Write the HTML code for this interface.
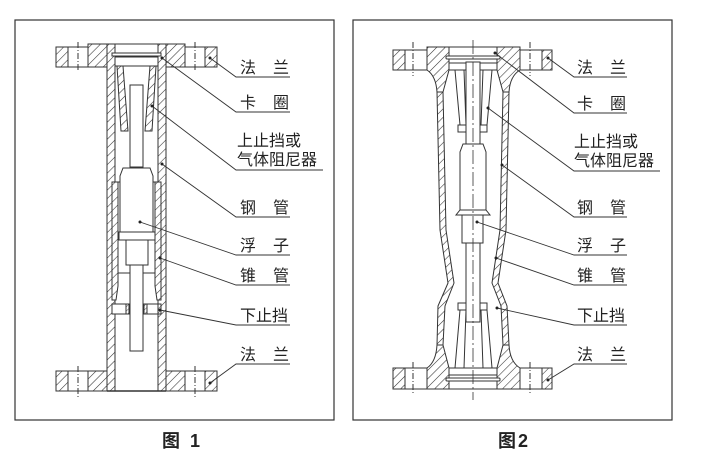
<!DOCTYPE html>
<html><head><meta charset="utf-8"><style>
html,body{margin:0;padding:0;background:#fff;width:704px;height:468px;overflow:hidden}
text{font-family:"Liberation Sans","Noto Sans CJK SC",sans-serif;fill:#222}
</style></head><body>
<svg width="704" height="468" viewBox="0 0 704 468" xmlns="http://www.w3.org/2000/svg">
<defs>
<pattern id="h" width="6" height="6" patternUnits="userSpaceOnUse" patternTransform="rotate(45)">
<rect width="6" height="6" fill="#fff"/><line x1="0" y1="0" x2="0" y2="6" stroke="#333" stroke-width="1.1"/>
</pattern>
<pattern id="hs" width="3" height="3" patternUnits="userSpaceOnUse" patternTransform="rotate(45)">
<rect width="3" height="3" fill="#fff"/><line x1="0" y1="0" x2="0" y2="3" stroke="#333" stroke-width="0.8"/>
</pattern>
</defs>
<g fill="none" stroke="#333" stroke-width="1.2">
<rect x="15" y="20" width="319" height="400"/>
<rect x="353" y="20" width="319" height="400"/>
</g>

<!-- FIG 1 -->
<g stroke="#333" stroke-width="1">
<rect x="56" y="47" width="12" height="20" fill="url(#h)"/>
<rect x="68" y="47" width="20" height="20" fill="#fff"/>
<rect x="88" y="44" width="19" height="23" fill="url(#h)"/>
<rect x="166" y="44" width="19" height="23" fill="url(#h)"/>
<rect x="185" y="47" width="20" height="20" fill="#fff"/>
<rect x="205" y="47" width="12" height="20" fill="url(#h)"/>
<line x1="78" y1="42" x2="78" y2="72" stroke-dasharray="6,2,1,2"/>
<line x1="195" y1="42" x2="195" y2="72" stroke-dasharray="6,2,1,2"/>
<rect x="56" y="371" width="12" height="20" fill="url(#h)"/>
<rect x="68" y="371" width="20" height="20" fill="#fff"/>
<rect x="88" y="371" width="19" height="20" fill="url(#h)"/>
<rect x="166" y="371" width="19" height="20" fill="url(#h)"/>
<rect x="185" y="371" width="20" height="20" fill="#fff"/>
<rect x="205" y="371" width="12" height="20" fill="url(#h)"/>
<line x1="78" y1="366" x2="78" y2="397" stroke-dasharray="6,2,1,2"/>
<line x1="195" y1="366" x2="195" y2="397" stroke-dasharray="6,2,1,2"/>
<rect x="107" y="44" width="8" height="347" fill="url(#h)"/>
<rect x="158" y="44" width="8" height="347" fill="url(#h)"/>
<line x1="115" y1="44" x2="158" y2="44"/>
<line x1="107" y1="391" x2="166" y2="391" stroke-width="1.4"/>
<rect x="112" y="53" width="49" height="3" fill="#fff"/>
<rect x="115" y="57" width="43" height="9" fill="#fff"/>
<polygon points="117,66 123,66 128,131 121,131" fill="url(#h)"/>
<polygon points="150,66 156,66 152,131 145,131" fill="url(#h)"/>
<rect x="130" y="85" width="13" height="82" fill="#fff"/>
<polygon points="112,182 118,182 118,286 116,300 112,300" fill="url(#h)"/>
<polygon points="155,182 161,182 161,300 157,300 155,286" fill="url(#h)"/>
<line x1="112" y1="182" x2="161" y2="182"/>
<polygon points="123,168 150,168 153,176 153,232 120,232 120,176" fill="#fff"/>
<rect x="119" y="232" width="36" height="8" fill="#fff"/>
<rect x="126" y="240" width="22" height="25" fill="#fff"/>
<line x1="118" y1="273" x2="155" y2="273"/>
<rect x="130" y="265" width="13" height="86" fill="#fff"/>
<rect x="112" y="304" width="17" height="10" fill="#fff"/>
<rect x="144" y="304" width="17" height="10" fill="#fff"/>
<rect x="126" y="304" width="3" height="10" fill="url(#hs)"/>
<rect x="144" y="304" width="3" height="10" fill="url(#hs)"/>
<rect x="158" y="304" width="3" height="10" fill="url(#hs)"/>
</g>
<g stroke="#333" stroke-width="0.9" fill="none">
<polyline points="210,58 236,77 290,77"/>
<polyline points="162,58 236,112 290,112"/>
<polyline points="152,106 236,170 323,170"/>
<polyline points="162,164 236,217 290,217"/>
<polyline points="140,222 236,255 290,255"/>
<polyline points="160,258 236,285 290,285"/>
<polyline points="160,310 236,325 290,325"/>
<polyline points="210,383 236,364 290,364"/>
</g>
<g fill="#222">
<circle cx="210" cy="58" r="1.5"/><circle cx="162" cy="58" r="1.5"/><circle cx="152" cy="106" r="1.5"/>
<circle cx="162" cy="164" r="1.5"/><circle cx="140" cy="222" r="1.5"/><circle cx="160" cy="258" r="1.5"/>
<circle cx="160" cy="310" r="1.5"/><circle cx="210" cy="383" r="1.5"/>
</g>
<g font-size="16">
<text x="240" y="73">法</text><text x="273" y="73">兰</text>
<text x="240" y="108">卡</text><text x="273" y="108">圈</text>
<text x="237" y="146">上止挡或</text>
<text x="237" y="165">气体阻尼器</text>
<text x="240" y="213">钢</text><text x="273" y="213">管</text>
<text x="240" y="251">浮</text><text x="273" y="251">子</text>
<text x="240" y="281">锥</text><text x="273" y="281">管</text>
<text x="240" y="321">下止挡</text>
<text x="240" y="360">法</text><text x="273" y="360">兰</text>
<text x="162" y="447" font-size="18" font-weight="bold">图</text><text x="190" y="447" font-size="18" font-weight="bold">1</text>
</g>

<!-- FIG 2 -->
<g stroke="#333" stroke-width="1">
<rect x="393" y="50" width="12" height="20" fill="url(#h)"/>
<rect x="405" y="50" width="22" height="20" fill="#fff"/>
<rect x="520" y="50" width="22" height="20" fill="#fff"/>
<rect x="542" y="50" width="10" height="20" fill="url(#h)"/>
<path d="M427,47 L449,47 L449,70 L443,92 L437,92 Q436,76 427,70 Z" fill="url(#h)"/>
<path d="M497,47 L520,47 L520,70 Q510,76 509,92 L503,92 L497,70 Z" fill="url(#h)"/>
<rect x="393" y="368" width="12" height="21" fill="url(#h)"/>
<rect x="405" y="368" width="22" height="21" fill="#fff"/>
<rect x="520" y="368" width="22" height="21" fill="#fff"/>
<rect x="542" y="368" width="10" height="21" fill="url(#h)"/>
<path d="M427,389 L449,389 L449,368 L443,345 L437,345 Q436,362 427,368 Z" fill="url(#h)"/>
<path d="M497,389 L520,389 L520,368 Q510,362 509,345 L503,345 L497,368 Z" fill="url(#h)"/>
<line x1="449" y1="47" x2="497" y2="47"/>
<line x1="449" y1="389" x2="497" y2="389"/>
<line x1="413" y1="42" x2="413" y2="76" stroke-dasharray="6,2,1,2"/>
<line x1="530" y1="42" x2="530" y2="76" stroke-dasharray="6,2,1,2"/>
<line x1="413" y1="362" x2="413" y2="394" stroke-dasharray="6,2,1,2"/>
<line x1="530" y1="362" x2="530" y2="394" stroke-dasharray="6,2,1,2"/>
<path d="M437,92 L443,92 L446,230 L454,283 L445,306 L443,345 L437,345 L438,306 L448,283 L440,230 Z" fill="url(#h)"/>
<path d="M503,92 L509,92 L506,230 L498,283 L507,306 L509,345 L503,345 L501,306 L492,283 L500,230 Z" fill="url(#h)"/>
<rect x="446" y="56" width="54" height="3" fill="#fff" rx="1"/>
<rect x="449" y="63" width="48" height="7" fill="#fff"/>
<rect x="446" y="378" width="54" height="3" fill="#fff" rx="1"/>
<rect x="449" y="368" width="48" height="7" fill="#fff"/>
<polygon points="455,70 464,70 466,125 460,125" fill="#fff"/>
<polygon points="483,70 492,70 487,125 481,125" fill="#fff"/>
<rect x="458" y="125" width="8" height="7" fill="#fff"/>
<rect x="479" y="125" width="8" height="7" fill="#fff"/>
<polygon points="460,310 466,310 464,368 455,368" fill="#fff"/>
<polygon points="481,310 487,310 492,368 483,368" fill="#fff"/>
<rect x="458" y="303" width="8" height="7" fill="#fff"/>
<rect x="479" y="303" width="8" height="7" fill="#fff"/>
<rect x="466" y="62" width="14" height="90" fill="#fff"/>
<polygon points="463,144 483,144 486,152 486,210 460,210 460,152" fill="#fff"/>
<polygon points="460,210 486,210 490,215 456,215" fill="#fff"/>
<rect x="462" y="215" width="21" height="28" fill="#fff"/>
<rect x="466" y="243" width="14" height="79" fill="#fff"/>
<line x1="473" y1="40" x2="473" y2="400" stroke-dasharray="14,3,2,3" stroke-width="0.8"/>
</g>
<g stroke="#333" stroke-width="0.9" fill="none">
<polyline points="548,58 574,77 627,77"/>
<polyline points="495,53 574,113 627,113"/>
<polyline points="488,108 574,171 660,171"/>
<polyline points="502,165 574,217 627,217"/>
<polyline points="477,222 574,255 627,255"/>
<polyline points="496,258 574,285 627,285"/>
<polyline points="497,308 574,325 627,325"/>
<polyline points="548,380 574,364 627,364"/>
</g>
<g fill="#222">
<circle cx="548" cy="58" r="1.5"/><circle cx="495" cy="53" r="1.5"/><circle cx="488" cy="108" r="1.5"/>
<circle cx="502" cy="165" r="1.5"/><circle cx="477" cy="222" r="1.5"/><circle cx="496" cy="258" r="1.5"/>
<circle cx="497" cy="308" r="1.5"/><circle cx="548" cy="380" r="1.5"/>
</g>
<g font-size="16">
<text x="577" y="73">法</text><text x="610" y="73">兰</text>
<text x="577" y="109">卡</text><text x="610" y="109">圈</text>
<text x="574" y="147">上止挡或</text>
<text x="574" y="166">气体阻尼器</text>
<text x="577" y="213">钢</text><text x="610" y="213">管</text>
<text x="577" y="251">浮</text><text x="610" y="251">子</text>
<text x="577" y="281">锥</text><text x="610" y="281">管</text>
<text x="577" y="321">下止挡</text>
<text x="577" y="360">法</text><text x="610" y="360">兰</text>
<text x="498" y="447" font-size="18" font-weight="bold">图</text><text x="518" y="447" font-size="18" font-weight="bold">2</text>
</g>
</svg>
</body></html>
